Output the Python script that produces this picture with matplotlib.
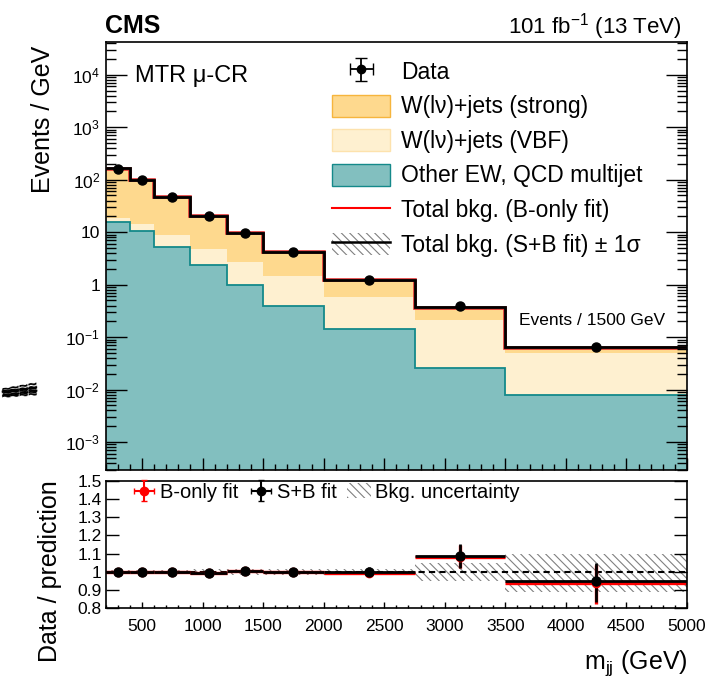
import numpy as np
import matplotlib
matplotlib.use('Agg')
import matplotlib.pyplot as plt
from matplotlib.patches import Patch
from matplotlib.lines import Line2D

plt.rcParams['font.family'] = ['Liberation Sans', 'DejaVu Sans']
plt.rcParams['mathtext.fontset'] = 'custom'
plt.rcParams['mathtext.rm'] = 'Liberation Sans'
plt.rcParams['mathtext.it'] = 'Liberation Sans:italic'
plt.rcParams['mathtext.bf'] = 'Liberation Sans:bold'
plt.rcParams['hatch.linewidth'] = 0.8

# m_jj binning (GeV)
edges = np.array([200, 400, 600, 900, 1200, 1500, 2000, 2750, 3500, 5000])

# Events / GeV
data = [163, 98, 47, 20.5, 9.7, 4.1, 1.24, 0.39, 0.064]
other_ew = [15.8, 10.5, 5.3, 2.4, 1.0, 0.39, 0.14, 0.026, 0.0079]
wjets_vbf = [2.5, 3.7, 3.5, 2.3, 1.7, 1.05, 0.43, 0.184, 0.041]
wjets_strong = [144.7, 84.8, 38.2, 15.9, 7.0, 2.66, 0.67, 0.14, 0.011]
total_sb = [164, 99, 47, 20.6, 9.8, 4.15, 1.25, 0.37, 0.064]
total_b = [163, 98.5, 46.8, 20.5, 9.75, 4.12, 1.24, 0.365, 0.063]

# ratio panel
ratio_sb = [1.0, 1.0, 1.0, 0.995, 1.005, 1.0, 0.999, 1.087, 0.95]
ratio_b = [0.997, 0.997, 0.997, 0.992, 1.002, 0.997, 0.996, 1.083, 0.94]
ratio_err_up = [0.005, 0.005, 0.006, 0.008, 0.01, 0.02, 0.025, 0.064, 0.097]
ratio_err_dn = [0.005, 0.005, 0.006, 0.008, 0.01, 0.02, 0.025, 0.064, 0.114]
unc_lo = [0.99, 0.99, 0.99, 0.985, 0.985, 0.985, 0.985, 0.95, 0.89]
unc_hi = [1.01, 1.01, 1.01, 1.015, 1.015, 1.015, 1.015, 1.05, 1.10]

c_strong = '#fed98e'
c_strong_edge = '#f6b53d'
c_vbf = '#fef0d0'
c_vbf_edge = '#fde2ad'
c_other = '#82bfbf'
c_other_edge = '#14898a'

centers = 0.5 * (edges[1:] + edges[:-1])
halfw = 0.5 * (edges[1:] - edges[:-1])

fig = plt.figure(figsize=(7.08, 6.79), dpi=100)
ax = fig.add_axes([0.1493, 0.3085, 0.821, 0.6296])
rax = fig.add_axes([0.1493, 0.1041, 0.821, 0.188])

# stack
cum_other = np.array(other_ew)
cum_vbf = cum_other + np.array(wjets_vbf)
cum_strong = cum_vbf + np.array(wjets_strong)
base = 1e-5
ax.stairs(cum_strong, edges, baseline=base, fill=True, color=c_strong, lw=0)
ax.stairs(cum_vbf, edges, baseline=base, fill=True, color=c_vbf, lw=0)
ax.stairs(cum_other, edges, baseline=base, fill=True, color=c_other, lw=0)
ax.stairs(cum_other, edges, baseline=None, color=c_other_edge, lw=1.3)

ax.stairs(total_b, edges, baseline=None, color='#e03030', lw=2.6)
ax.stairs(total_sb, edges, baseline=None, color='black', lw=2.0)
ax.plot(centers, data, 'o', color='black', ms=6.5, zorder=5)

ax.set_yscale('log')
ax.set_xlim(200, 5000)
ax.set_ylim(3e-4, 4.2e4)
yt = [1e-3, 1e-2, 1e-1, 1, 10, 1e2, 1e3, 1e4]
ylab = ['$10^{-3}$', '$10^{-2}$', '$10^{-1}$', '1', '10', '$10^{2}$', '$10^{3}$', '$10^{4}$']
ax.set_yticks(yt, ylab)
ax.yaxis.set_minor_locator(matplotlib.ticker.LogLocator(base=10, subs=np.arange(2, 10), numticks=20))
ax.yaxis.set_minor_formatter(matplotlib.ticker.NullFormatter())
ax.set_xticks(np.arange(500, 5001, 500))
ax.set_xticks(np.arange(200, 5001, 100), minor=True)
ax.tick_params(axis='x', which='both', direction='in', labelbottom=False)
ax.tick_params(axis='x', which='major', length=8.5, width=1.0)
ax.tick_params(axis='x', which='minor', length=4.3, width=1.0)
ax.tick_params(axis='y', which='both', direction='in', right=True, labelsize=12.5)
ax.tick_params(axis='y', which='major', length=15, width=1.0, pad=4)
ax.tick_params(axis='y', which='minor', length=7.5, width=1.0)
for s in ax.spines.values():
    s.set_linewidth(1.2)

# legend (top)
h_data = ax.errorbar([np.nan], [np.nan], xerr=[1], yerr=[1], fmt='o', color='black',
                     ms=6, capsize=4, lw=1.3)
h_strong = Patch(facecolor=c_strong, edgecolor=c_strong_edge, lw=1.0)
h_vbf = Patch(facecolor=c_vbf, edgecolor=c_vbf_edge, lw=1.0)
h_other = Patch(facecolor=c_other, edgecolor=c_other_edge, lw=1.0)
h_b = Line2D([], [], color='red', lw=1.5)
h_sb = (Patch(facecolor='white', edgecolor='#808080', hatch='\\\\\\\\', lw=0),
        Line2D([], [], color='black', lw=1.8))
ax.legend([h_data, h_strong, h_vbf, h_other, h_b, h_sb],
          ['Data', 'W(l\u03bd)+jets (strong)', 'W(l\u03bd)+jets (VBF)', 'Other EW, QCD multijet',
           'Total bkg. (B-only fit)', 'Total bkg. (S+B fit) \u00b1 1\u03c3'],
          loc='upper left', bbox_to_anchor=(0.39, 0.958), frameon=False, fontsize=16.5,
          handlelength=2.5, handleheight=1.1, handletextpad=0.48, labelspacing=0.47,
          borderpad=0, borderaxespad=0)

ax.text(0.05, 0.907, 'MTR \u03bc-CR', transform=ax.transAxes, fontsize=17, va='baseline')
ax.text(0.711, 0.348, 'Events / 1500 GeV', transform=ax.transAxes, fontsize=12.5, va='center')

# ratio panel
rax.stairs(unc_hi, edges, baseline=unc_lo, fill=True, facecolor='none', edgecolor='#808080',
           hatch='\\\\\\\\', lw=0, label='Bkg. uncertainty')
rax.axhline(1.0, color='black', ls=(0, (3, 2)), lw=1.5)
h_rb = rax.errorbar(centers, ratio_b, xerr=halfw, yerr=[ratio_err_dn, ratio_err_up], fmt='o',
                    color='red', ms=6, lw=2.4, capsize=0, label='B-only fit')
h_rsb = rax.errorbar(centers, ratio_sb, xerr=halfw, yerr=[ratio_err_dn, ratio_err_up], fmt='o',
                     color='black', ms=6.5, lw=2.0, capsize=0, label='S+B fit')
h_rb_leg = rax.errorbar([np.nan], [np.nan], xerr=[1], yerr=[1], fmt='o', color='red',
                        ms=6, lw=1.5, capsize=2)
h_rsb_leg = rax.errorbar([np.nan], [np.nan], xerr=[1], yerr=[1], fmt='o', color='black',
                         ms=6, lw=1.5, capsize=2)
h_unc = Patch(facecolor='white', edgecolor='#808080', hatch='\\\\\\\\', lw=0)
rax.legend([h_rb_leg, h_rsb_leg, h_unc], ['B-only fit', 'S+B fit', 'Bkg. uncertainty'], ncol=3,
           loc='upper left', bbox_to_anchor=(0.045, 0.985), frameon=False, fontsize=14.5,
           handlelength=1.2, handletextpad=0.2, columnspacing=0.5, borderpad=0, borderaxespad=0)

rax.set_xlim(200, 5000)
rax.set_ylim(0.8, 1.5)
rax.set_yticks([0.8, 0.9, 1.0, 1.1, 1.2, 1.3, 1.4, 1.5],
               ['0.8', '0.9', '1', '1.1', '1.2', '1.3', '1.4', '1.5'])
rax.set_xticks(np.arange(500, 5001, 500))
rax.set_xticks(np.arange(200, 5001, 100), minor=True)
rax.tick_params(axis='x', which='both', direction='in', labelsize=12.5, pad=8)
rax.tick_params(axis='x', which='major', length=4.3, width=1.0)
rax.tick_params(axis='x', which='minor', length=2.2, width=1.0)
rax.tick_params(axis='y', which='major', direction='in', right=True, length=9.4, width=1.0,
                labelsize=12.5, pad=3)
for s in rax.spines.values():
    s.set_linewidth(1.2)

# titles and labels
fig.text(105 / 708, 1 - 33 / 679, 'CMS', fontsize=18, fontweight='bold', va='baseline')
fig.text(682 / 708, 1 - 33.5 / 679, '101 fb$^{-1}$ (13 TeV)', fontsize=16, ha='right',
         va='baseline')
fig.text(43 / 708, 1 - 46 / 679, 'Events / GeV', rotation=90, fontsize=18, ha='center', va='top')
fig.text(50 / 708, 1 - 480 / 679, 'Data / prediction', rotation=90, fontsize=18, ha='center',
         va='top')
fig.text(688 / 708, 1 - 663 / 679, 'm$_{\\mathrm{jj}}$ (GeV)', fontsize=18, ha='right',
         va='center')

# stray smudge left of the axis
for dy, rot in [(0, 8), (2, 4), (-2, 10), (1, 6)]:
    fig.text(1 / 708, 1 - (392 + dy) / 679, '\u2248\u2248\u2248\u2248', fontsize=12,
             fontweight='bold', rotation=rot, va='center', color='black')

fig.savefig('out.png', dpi=100)
